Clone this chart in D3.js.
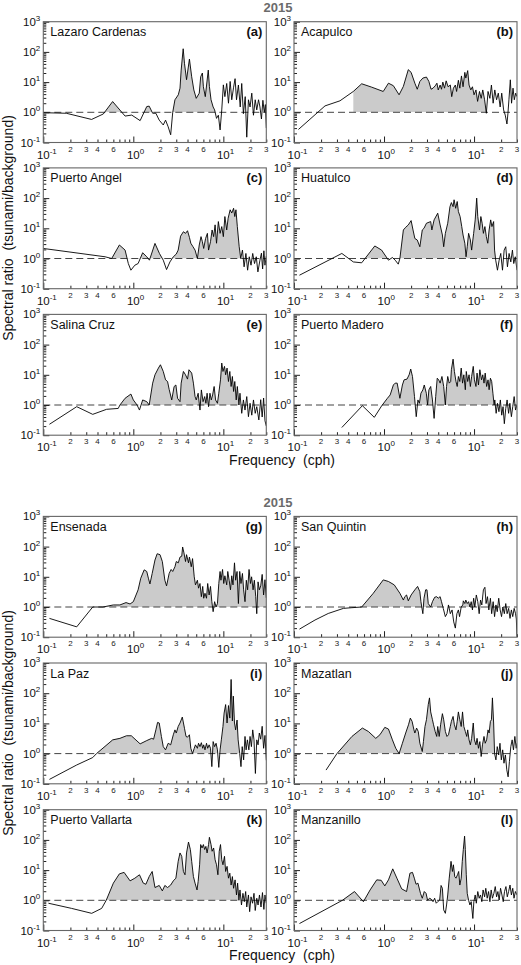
<!DOCTYPE html>
<html><head><meta charset="utf-8">
<script src="https://cdn.jsdelivr.net/npm/d3@7"></script>
<style>body{margin:0;background:#fff;} svg{display:block;font-family:"Liberation Sans",Arial,Helvetica,sans-serif;}</style>
</head><body><div id="chart"></div>
<script>
const groupTitles = ["2015", "2015"];
const xAxisTitle = "Frequency  (cph)";
const yAxisTitle = "Spectral ratio  (tsunami/background)";
const stations = ["Lazaro Cardenas","Acapulco","Puerto Angel","Huatulco","Salina Cruz","Puerto Madero",
                  "Ensenada","San Quintin","La Paz","Mazatlan","Puerto Vallarta","Manzanillo"];
const panelLetters = ["(a)","(b)","(c)","(d)","(e)","(f)","(g)","(h)","(i)","(j)","(k)","(l)"];
// frequency band (cph) that is shaded where ratio > 1
const shadeBands = [[0.4,8.5],[0.456,13.7],[0.57,15.6],[0.59,17.2],[0.7,15],[0.9,16.5],
                    [0.35,30],[0.56,8.8],[0.39,15],[0.3,16.9],[0.5,14.9],[0.345,8.7]];
const xMajorTicks = [0.1, 1, 10];
const xMajorExp = ["-1", "0", "1"];
const xMinorTicks = [0.2,0.3,0.4,0.5,0.6,0.7,0.8,0.9,2,3,4,5,6,7,8,9,20,30];
const xMinorLabelTicks = [0.2,0.3,0.4,0.6,2,3,4,6,20,30];
const xMinorLabels = ["2","3","4","6","2","3","4","6","2","3"];
const yMajorTicks = [0.1, 1, 10, 100, 1000];
const yMajorExp = ["-1", "0", "1", "2", "3"];
const yMinorTicks = [0.2,0.3,0.4,0.5,0.6,0.7,0.8,0.9,2,3,4,5,6,7,8,9,20,30,40,50,60,70,80,90,200,300,400,500,600,700,800,900];

// [frequency (cph), spectral ratio]
const lazaroCardenas = [[0.1,0.97],[0.18,0.93],[0.344,0.58],[0.464,0.88],[0.589,2.27],[0.81,0.75],[0.96,0.81],[1.19,0.53],[1.41,1.55],[1.5,1.6],[1.64,0.93],[1.78,0.93],[1.94,0.55],[2.15,0.38],[2.28,0.55],[2.44,0.33],[2.6,0.18],[2.74,1.0],[2.9,2.6],[3.16,3.8],[3.3,6.3],[3.4,25],[3.58,127],[3.7,42],[3.9,12],[4.2,58],[4.45,15],[4.7,5.5],[5.0,2.9],[5.4,4.3],[5.6,15],[5.85,20],[6.0,7],[6.3,3.3],[6.8,25],[7.0,7.2],[7.3,2.6],[7.7,1.5],[8.0,1.2],[8.4,0.63],[8.8,0.8],[9.2,0.26],[9.6,1.2],[10,8.1],[10.4,3.3],[10.9,9],[11.4,2],[11.9,10.5],[12.4,2.6],[13,6.8],[13.5,13],[14,2.6],[14.7,8],[15.4,1.5],[16,9],[16.7,0.9],[17.5,3.3],[18.2,0.15],[19,2.6],[19.8,1.5],[20.7,4.3],[21.6,0.8],[22.6,2.6],[23.5,1.2],[24.6,2.6],[25.5,1.5],[26.5,0.6],[27.5,2.5],[28.5,1.0],[29.3,1.8],[30,0.3]];
const acapulco = [[0.112,0.27],[0.221,1.63],[0.324,2.4],[0.456,4.9],[0.565,8.8],[0.73,6.8],[0.98,4.9],[1.12,9.2],[1.27,7.6],[1.47,3.8],[1.64,7.2],[1.86,25.8],[2.0,21],[2.2,9.2],[2.34,5.8],[2.5,10.5],[2.7,13.6],[2.96,14.7],[3.15,10.5],[3.33,5.8],[3.5,6.3],[3.7,7.5],[3.87,9.2],[4.0,5.5],[4.2,8],[4.35,5.8],[4.5,10],[4.7,6.3],[4.9,11],[5.15,7],[5.45,8],[5.65,3.3],[5.9,6.3],[6.2,8],[6.4,4.9],[6.7,11.5],[6.95,6.3],[7.25,16],[7.55,7],[7.9,21],[8.1,13.6],[8.5,24],[8.8,8],[9.2,5.5],[9.6,7],[10.0,3.8],[10.5,5.5],[10.95,2.3],[11.5,4.9],[12.0,2.9],[12.5,5.5],[13.1,2.6],[13.7,0.93],[14.3,4.9],[15,2.9],[15.6,8],[16.3,2],[17,5.5],[17.8,2.6],[18.6,4.3],[19.5,1.5],[20.3,4.3],[21.3,1.2],[22.2,0.81],[23.2,0.41],[23.8,0.93],[24.4,2.6],[25.3,11.9],[26.1,2],[27.1,6.3],[28,2.6],[29,4.3],[30,3.3]];
const puertoAngel = [[0.1,2.15],[0.485,1.14],[0.575,1.0],[0.70,2.8],[0.81,1.9],[0.88,0.68],[0.94,0.41],[1.04,0.6],[1.13,0.68],[1.27,1.55],[1.41,1.14],[1.51,0.88],[1.74,3.16],[1.95,1.47],[2.15,0.88],[2.34,0.43],[2.55,0.77],[2.78,1.14],[3.0,1.4],[3.15,1.9],[3.35,5.5],[3.6,7.7],[3.8,6.8],[4.0,8.3],[4.2,5],[4.35,3.2],[4.6,2.45],[4.85,1.9],[5.15,1.0],[5.4,2.8],[5.65,5.3],[5.85,3.6],[6.05,2.15],[6.35,4.6],[6.65,6.8],[6.85,1.9],[7.2,3.6],[7.5,8.8],[7.8,5.3],[8.1,13],[8.4,3.2],[8.8,16.7],[9.2,6.8],[9.6,11.4],[10,5.3],[10.4,24.5],[10.9,8.8],[11.3,21.5],[11.9,41],[12.4,32],[13,46],[13.4,24.5],[13.8,41],[14.3,11.4],[15.0,2.45],[15.6,1.0],[16.3,1.9],[17,0.53],[17.8,1.47],[18.6,0.41],[19.4,1.14],[20.3,0.6],[21.2,1.47],[22.2,0.68],[23.2,1.14],[24.2,0.36],[25.5,0.88],[26.5,1.5],[27.3,0.45],[28.2,1.8],[29,0.6],[30,1.2]];
const huatulco = [[0.115,0.28],[0.34,1.47],[0.456,0.77],[0.565,0.72],[0.79,2.6],[0.94,1.9],[1.12,0.88],[1.24,1.08],[1.33,0.88],[1.44,0.65],[1.5,1.0],[1.64,8.8],[1.74,10.8],[1.86,12.9],[2.0,18],[2.1,8.8],[2.2,4.6],[2.34,4.1],[2.5,2.45],[2.66,8.8],[2.78,10],[2.96,14.7],[3.3,16.7],[3.4,8.8],[3.6,19],[3.95,31.6],[4.2,12.9],[4.45,6],[4.6,2.45],[4.8,6.8],[5.1,14.7],[5.4,52],[5.6,71],[5.85,52],[6.0,88],[6.25,46],[6.5,77],[6.7,36],[7.0,24.5],[7.3,11.4],[7.55,6],[7.9,3.2],[8.15,1.14],[8.4,2.45],[8.7,6.8],[9.1,4.1],[9.4,1.9],[9.9,6.8],[10.3,19],[10.7,100],[11.0,24.5],[11.5,8.8],[11.9,24.5],[12.3,14.7],[12.7,6.8],[13.2,11.4],[13.7,5.3],[14.2,3.2],[14.7,8.8],[15.3,19],[15.8,11.4],[16.5,16.7],[16.9,1.9],[17.4,0.88],[18.2,0.41],[19,0.88],[19.8,1.47],[20.7,0.41],[21.6,1.9],[22.5,2.45],[23.5,0.53],[24.5,1.47],[25.6,0.77],[26.7,1.9],[27.6,0.68],[28.7,1.14],[30,0.41]];
const salinaCruz = [[0.117,0.23],[0.235,0.88],[0.354,0.49],[0.505,0.72],[0.68,0.77],[0.71,1.0],[0.81,1.67],[0.94,2.3],[1.0,1.47],[1.1,1.0],[1.17,0.68],[1.27,1.47],[1.41,1.29],[1.5,1.0],[1.64,5.3],[1.74,10],[1.9,16.7],[2.0,21.5],[2.15,12.9],[2.28,6.8],[2.4,6],[2.5,3.3],[2.67,1.47],[2.84,4.1],[2.97,4.6],[3.1,1.67],[3.3,1.29],[3.4,5.3],[3.6,12.9],[3.8,10],[4.0,7.2],[4.15,14.7],[4.45,11.4],[4.65,5.3],[4.85,1.9],[5.0,1.47],[5.25,2.45],[5.5,0.68],[5.7,3.16],[5.95,1.29],[6.2,1.9],[6.4,1.14],[6.6,2.45],[6.85,0.88],[7.1,2.45],[7.35,1.47],[7.6,2.15],[7.9,4.1],[8.2,1.47],[8.6,1.14],[8.9,2.45],[9.3,6.8],[9.6,24.5],[9.9,12.9],[10.3,19],[10.6,10],[11.0,16.7],[11.4,6],[11.8,12.9],[12.2,4.1],[12.6,8.8],[13.0,2.8],[13.4,6],[13.9,1.47],[14.3,4.1],[14.9,1.0],[15.3,2.45],[16.0,0.53],[16.7,1.47],[17.4,0.68],[18.2,1.9],[19,0.41],[19.8,1.14],[20.7,0.46],[21.6,1.47],[22.6,0.53],[23.5,0.88],[24.8,0.32],[26,1.5],[27,0.4],[28,1.7],[29,0.3],[30,0.2]];
const puertoMadero = [[0.34,0.18],[0.575,0.95],[0.78,0.39],[0.94,0.93],[1.09,1.67],[1.17,2.15],[1.27,4.6],[1.33,5.3],[1.4,5.3],[1.5,1.67],[1.6,4.6],[1.67,6.8],[1.8,7.2],[1.9,10],[1.98,15.5],[2.07,8.8],[2.18,1.9],[2.28,0.41],[2.38,1.47],[2.47,1.14],[2.57,2.45],[2.7,3.16],[2.8,4.6],[2.95,2.45],[3.05,1.0],[3.15,3.16],[3.3,4.1],[3.45,1.47],[3.6,0.36],[3.75,1.9],[3.9,7.7],[4.05,6.8],[4.2,5.3],[4.4,8.8],[4.6,4.1],[4.8,1.0],[4.95,4.1],[5.1,8.8],[5.3,5.3],[5.5,6],[5.6,14.7],[5.85,33],[6.05,12.9],[6.3,6],[6.5,4.1],[6.7,8.8],[6.95,6],[7.2,16.7],[7.45,5.3],[7.7,10],[8.0,3.2],[8.2,12.9],[8.5,6],[8.8,10],[9.1,4.1],[9.4,8.8],[9.8,19],[10.1,6.8],[10.5,4.1],[10.8,11.4],[11.2,4.6],[11.6,14.7],[12.1,6.8],[12.5,10],[12.9,5.3],[13.3,11.4],[13.8,4.1],[14.3,6.8],[14.7,3.2],[15.2,7.7],[15.7,6],[16.2,2.45],[16.7,1.0],[17.0,1.47],[17.6,0.53],[18.2,1.14],[18.9,0.6],[19.6,1.47],[20.3,0.46],[21,0.88],[21.7,0.24],[22.5,0.77],[23.3,1.47],[24.2,0.53],[25,1.14],[26,0.41],[26.9,0.88],[27.9,1.9],[28.9,0.68],[30,1.0]];
const ensenada = [[0.117,0.42],[0.235,0.22],[0.354,1.0],[0.46,1.0],[0.6,1.17],[0.71,1.17],[0.83,1.4],[0.92,1.26],[1.0,1.5],[1.13,3.7],[1.21,9],[1.32,17],[1.41,15],[1.47,9],[1.53,5.8],[1.62,12.9],[1.74,36],[1.84,58],[1.98,54],[2.1,32],[2.24,7.7],[2.34,5],[2.5,12.9],[2.63,17.5],[2.74,15],[2.9,21.5],[3.0,32],[3.16,29],[3.3,45],[3.45,48],[3.53,97],[3.65,62],[3.8,32],[3.9,54],[4.1,29],[4.2,45],[4.4,21.5],[4.55,40],[4.75,10],[4.9,5.4],[5.15,7.7],[5.3,4.2],[5.5,6],[5.7,2.2],[5.9,4.8],[6.05,1.95],[6.25,2.85],[6.5,1.95],[6.7,6],[6.95,2.5],[7.2,4.8],[7.45,1.5],[7.7,0.7],[8.0,1.5],[8.3,1.0],[8.6,1.3],[8.9,6],[9.2,15],[9.4,7.7],[9.8,17.5],[10.1,6],[10.4,10.8],[10.9,5.4],[11.2,15],[11.6,7.7],[12.0,3.7],[12.4,10.8],[12.8,5.4],[13.3,29],[13.7,7.7],[14.2,15],[14.7,1.3],[15.2,15],[15.7,6],[16.3,12.9],[16.8,3.7],[17.4,1.5],[18,7.7],[18.6,3.7],[19.3,17.5],[20,6],[20.6,10],[21.4,3.7],[22.1,7.7],[22.9,2.2],[23.5,0.6],[24.3,6.8],[25.1,3.7],[26,5],[27,12],[28,2.5],[29,8],[30,2]];
const sanQuintin = [[0.115,0.185],[0.171,0.37],[0.24,0.61],[0.354,0.9],[0.44,0.95],[0.565,1.0],[0.76,2.85],[0.98,7.9],[1.12,7],[1.3,5.4],[1.5,2.85],[1.64,1.7],[1.7,2.2],[1.78,2.5],[1.86,1.6],[2.0,2.5],[2.2,3.7],[2.36,4.8],[2.5,3.2],[2.57,1.5],[2.7,0.6],[2.78,1.95],[2.9,3.7],[3.0,3.7],[3.1,1.3],[3.3,1.0],[3.45,1.5],[3.65,2.1],[3.85,2.2],[4.0,1.95],[4.2,2.2],[4.35,1.5],[4.55,0.9],[4.8,0.48],[5.0,0.6],[5.2,1.17],[5.45,0.6],[5.7,0.8],[5.95,0.32],[6.2,0.2],[6.45,0.6],[6.7,0.8],[6.9,0.48],[7.2,1.0],[7.5,1.17],[7.6,1.6],[7.9,1.3],[8.1,1.7],[8.4,1.3],[8.7,1.5],[9.0,1.0],[9.3,1.5],[9.6,0.8],[9.9,1.95],[10.2,1.0],[10.6,2.5],[11.0,1.5],[11.4,0.6],[11.8,1.7],[12.2,1.17],[12.7,3.7],[13.2,4.5],[13.6,1.3],[14.1,2.2],[14.6,0.8],[15.2,1.95],[15.7,0.6],[16.3,1.5],[16.9,0.48],[17.5,1.17],[18.1,0.7],[18.8,1.95],[19.5,0.8],[20.2,0.48],[20.9,1.0],[21.7,0.6],[22.5,1.3],[23.3,0.6],[24.2,0.9],[25.1,0.42],[26,0.8],[26.9,0.48],[27.9,0.9],[28.9,0.6],[29.5,0.4],[30,0.1]];
const laPaz = [[0.117,0.14],[0.235,0.42],[0.354,0.74],[0.39,1.0],[0.59,2.85],[0.71,3.2],[0.84,3.9],[0.95,3.9],[1.19,2.1],[1.41,2.7],[1.6,3.2],[1.68,3.0],[1.78,6.1],[1.86,10.8],[1.94,10.3],[2.05,3.7],[2.15,1.7],[2.28,1.33],[2.44,2.2],[2.6,1.95],[2.78,4.2],[2.9,6.1],[3.0,4.8],[3.15,7.9],[3.3,10.3],[3.5,16.2],[3.7,6.9],[3.85,3.7],[4.0,3.5],[4.2,4.2],[4.35,1.5],[4.55,1.0],[4.75,1.5],[4.9,1.95],[5.15,1.5],[5.3,2.2],[5.5,1.7],[5.7,2.3],[5.9,1.5],[6.05,1.95],[6.25,1.33],[6.5,2.2],[6.7,1.5],[6.95,1.95],[7.2,1.5],[7.45,0.37],[7.7,2.5],[8.0,1.7],[8.3,2.2],[8.6,1.33],[8.9,0.35],[9.2,1.33],[9.5,2.85],[9.9,7.9],[10.2,22],[10.6,42],[11.0,10.3],[11.4,39],[11.8,15],[12.2,285],[12.6,12],[12.9,80],[13.3,10.3],[13.7,6.1],[14.2,12.9],[14.6,2.85],[15.2,1.0],[15.7,0.37],[16.2,1.7],[16.8,0.62],[17.4,3.7],[17.9,1.33],[18.5,2.85],[19.2,1.33],[19.8,3.7],[20.5,1.7],[21.2,6.1],[21.9,2.85],[22.7,0.22],[23.5,2.85],[24.3,1.95],[25.1,4.8],[26,3],[27,8],[28,1.5],[29,4],[30,0.6]];
const mazatlan = [[0.227,0.285],[0.3,1.0],[0.44,3.7],[0.575,7],[0.67,5.4],[0.81,3.2],[0.9,4.2],[1.02,7.4],[1.12,6.5],[1.24,2.85],[1.35,1.5],[1.47,1.0],[1.6,2.2],[1.74,4.8],[1.87,9],[1.96,15],[2.05,11.7],[2.15,6.1],[2.2,4.8],[2.3,7],[2.4,5.4],[2.5,2.2],[2.66,1.17],[2.74,2.5],[2.85,7.9],[2.96,13.2],[3.1,42],[3.2,70],[3.3,24],[3.45,13.2],[3.55,9],[3.7,5.4],[3.85,3.7],[3.95,7.9],[4.1,3.7],[4.25,9],[4.45,21],[4.6,13.2],[4.8,5.4],[5.0,3.7],[5.2,4.2],[5.45,7.9],[5.6,11.7],[5.85,17],[6.05,9],[6.3,6.1],[6.5,11.7],[6.7,24],[6.95,13.2],[7.2,7.9],[7.45,24],[7.7,7.9],[8.0,5.4],[8.3,3.7],[8.5,6.1],[8.8,2.85],[9.1,1.95],[9.4,3.2],[9.8,10.3],[10.1,2.85],[10.5,1.95],[10.8,3.2],[11.2,1.5],[11.6,2.5],[12.0,0.8],[12.4,1.95],[12.9,3.7],[13.3,2.2],[13.8,2.85],[14.3,6.1],[14.7,4.8],[15.2,11.7],[15.6,13.2],[16.0,70],[16.5,10.3],[16.9,1.0],[17.5,0.62],[18.1,1.7],[18.8,0.9],[19.4,2.2],[20.1,0.62],[20.8,1.33],[21.5,0.48],[22.3,0.9],[23.1,0.29],[23.9,0.17],[24.7,0.54],[25.6,1.7],[26.5,2.85],[27.4,1.33],[28.4,3.7],[29.4,1.5],[30,2.2]];
const puertoVallarta = [[0.114,0.8],[0.206,0.54],[0.345,0.37],[0.445,0.54],[0.5,1.0],[0.6,3.7],[0.7,7.5],[0.79,8.4],[0.92,4.4],[1.04,5.4],[1.17,7],[1.29,3.7],[1.38,3.4],[1.5,6.1],[1.62,9],[1.74,2.65],[1.94,3.1],[2.1,2.05],[2.24,3.1],[2.4,2.65],[2.6,3.2],[2.78,4.4],[2.97,5.4],[3.15,19.5],[3.3,37],[3.45,28.6],[3.6,9],[3.75,7],[3.9,37],[4.1,85],[4.3,48],[4.45,19.5],[4.65,6.1],[4.85,3.7],[5.1,2.2],[5.25,4.2],[5.45,15],[5.6,70],[5.8,54],[6.0,70],[6.2,48],[6.4,61],[6.6,37],[6.85,70],[7.0,122],[7.3,70],[7.5,42],[7.8,54],[8.1,22],[8.4,15],[8.7,7],[9.0,42],[9.3,70],[9.6,22],[9.9,15],[10.3,28.6],[10.6,9],[11.0,13.3],[11.4,5.4],[11.8,7.9],[12.2,3.2],[12.6,6.1],[13.0,2.5],[13.5,4.75],[14.0,1.5],[14.4,3.7],[14.9,1.0],[15.3,2.2],[15.9,0.7],[16.5,1.7],[17.1,0.9],[17.7,1.95],[18.2,0.6],[19,1.5],[19.6,0.42],[20.3,1.3],[21.1,0.8],[21.9,1.7],[22.6,0.46],[23.5,1.17],[24.3,0.7],[25.2,1.5],[26.2,0.6],[27.2,1.8],[28.2,0.5],[29,1.5],[30,0.8]];
const manzanillo = [[0.115,0.17],[0.345,1.0],[0.47,1.95],[0.59,0.9],[0.7,2.2],[0.83,4.75],[0.93,4.6],[1.02,3.0],[1.12,4.75],[1.25,11],[1.39,5.4],[1.57,2.4],[1.78,1.95],[1.94,7.9],[2.07,8.4],[2.17,5.4],[2.27,3.4],[2.38,3.7],[2.54,1.7],[2.66,1.17],[2.8,1.95],[2.93,1.7],[3.05,1.0],[3.2,1.17],[3.33,1.1],[3.5,0.9],[3.65,1.17],[3.8,0.8],[3.95,0.9],[4.15,1.02],[4.3,3.1],[4.45,2.5],[4.6,0.48],[4.8,0.37],[4.95,0.7],[5.1,1.5],[5.3,5.4],[5.55,19.5],[5.75,9],[5.9,15],[6.1,6.1],[6.3,5.4],[6.55,7],[6.75,9],[6.95,3.2],[7.2,5.4],[7.4,19.5],[7.6,48],[7.85,133],[8.0,48],[8.2,7],[8.4,1.7],[8.7,1.0],[9.0,0.7],[9.3,0.9],[9.7,0.25],[9.95,0.9],[10.3,1.5],[10.6,0.8],[11.0,1.95],[11.4,1.17],[11.8,1.5],[12.2,0.9],[12.6,2.2],[13.1,1.3],[13.5,2.5],[14.0,1.17],[14.5,1.95],[15.0,0.9],[15.5,2.2],[16.0,1.17],[16.6,1.7],[17.2,2.85],[17.8,1.3],[18.4,1.95],[19,1.02],[19.7,2.5],[20.4,1.5],[21.1,0.9],[21.8,1.95],[22.6,2.85],[23.4,1.3],[24.2,1.95],[25.1,3.2],[26,1.5],[26.9,2.5],[27.8,1.17],[28.8,1.95],[30,1.5]];

const panelData = [lazaroCardenas, acapulco, puertoAngel, huatulco, salinaCruz, puertoMadero,
                   ensenada, sanQuintin, laPaz, mazatlan, puertoVallarta, manzanillo];

// ---------- layout ----------
const W = 521, H = 965;
const colX = [43.3, 294];
const rowTop = [21.7, 167.9, 314.4, 516.4, 663, 809.7];
const PW = 223, PH = 120.8;
const groupTitleY = [11.5, 506.5];
const xTitleY = [465, 960];
const yTitleCY = [228, 723];

const svg = d3.select("#chart").append("svg").attr("width", W).attr("height", H);
const defs = svg.append("defs");

function interpAt(data, f) {
  if (f <= data[0][0]) return data[0][1];
  const last = data[data.length - 1];
  if (f >= last[0]) return last[1];
  for (let j = 0; j < data.length - 1; j++) {
    const a = data[j], b = data[j + 1];
    if (f >= a[0] && f <= b[0]) {
      const t = (Math.log(f) - Math.log(a[0])) / (Math.log(b[0]) - Math.log(a[0]));
      return Math.exp(Math.log(a[1]) + t * (Math.log(b[1]) - Math.log(a[1])));
    }
  }
  return 1;
}

panelData.forEach((data, i) => {
  const x0 = colX[i % 2], top = rowTop[Math.floor(i / 2)];
  const x = d3.scaleLog().domain([0.1, 30]).range([x0, x0 + PW]);
  const y = d3.scaleLog().domain([0.1, 1000]).range([top + PH, top]);
  const g = svg.append("g");

  defs.append("clipPath").attr("id", "clip" + i).append("rect")
    .attr("x", x0).attr("y", top).attr("width", PW).attr("height", PH);
  defs.append("clipPath").attr("id", "shade" + i).append("rect")
    .attr("x", x0).attr("y", top).attr("width", PW).attr("height", y(1) - top);

  // shaded region
  const band = shadeBands[i];
  const bandPts = [[band[0], interpAt(data, band[0])]]
    .concat(data.filter(d => d[0] > band[0] && d[0] < band[1]))
    .concat([[band[1], interpAt(data, band[1])]]);
  g.append("path").datum(bandPts)
    .attr("clip-path", `url(#shade${i})`)
    .attr("fill", "#cbcbcb")
    .attr("d", d3.area().x(d => x(d[0])).y0(y(1)).y1(d => y(d[1])));

  // dashed reference line at ratio 1
  g.append("line")
    .attr("x1", x(0.1)).attr("x2", x(30)).attr("y1", y(1)).attr("y2", y(1))
    .attr("stroke", "#444").attr("stroke-width", 1).attr("stroke-dasharray", "7,4");

  // curve
  g.append("path").datum(data)
    .attr("clip-path", `url(#clip${i})`)
    .attr("fill", "none").attr("stroke", "#000").attr("stroke-width", 0.9)
    .attr("stroke-linejoin", "round")
    .attr("d", d3.line().x(d => x(d[0])).y(d => y(d[1])));

  // axes (ticks inward)
  const xa = g.append("g").attr("transform", `translate(0,${top + PH})`)
    .call(d3.axisBottom(x).tickValues(xMajorTicks.concat(xMinorTicks)).tickSize(-3).tickFormat(""));
  xa.select(".domain").remove();
  xa.selectAll(".tick line").attr("stroke", "#222")
    .attr("y2", d => xMajorTicks.includes(d) ? -6 : -3);
  const ya = g.append("g").attr("transform", `translate(${x0},0)`)
    .call(d3.axisLeft(y).tickValues(yMajorTicks.concat(yMinorTicks)).tickSize(-3).tickFormat(""));
  ya.select(".domain").remove();
  ya.selectAll(".tick line").attr("stroke", "#222")
    .attr("x2", d => yMajorTicks.includes(d) ? 6 : 3);

  // frame
  g.append("rect").attr("x", x0).attr("y", top).attr("width", PW).attr("height", PH)
    .attr("fill", "none").attr("stroke", "#666").attr("stroke-width", 1.1);

  // x tick labels
  xMajorTicks.forEach((t, k) => {
    const tx = g.append("text").attr("x", x(t) - 6.4).attr("y", top + PH + 16)
      .attr("font-size", 11.5).attr("fill", "#111");
    tx.append("tspan").text("10");
    tx.append("tspan").attr("dy", -5).attr("font-size", 8).text(xMajorExp[k]);
  });
  xMinorLabelTicks.forEach((t, k) => {
    g.append("text").attr("x", x(t)).attr("y", top + PH + 9)
      .attr("text-anchor", "middle").attr("font-size", 8).attr("fill", "#222")
      .text(xMinorLabels[k]);
  });
  // y tick labels
  yMajorTicks.forEach((t, k) => {
    const ty = g.append("text").attr("x", x0 - 3).attr("y", y(t) + 4)
      .attr("text-anchor", "end").attr("font-size", 11.5).attr("fill", "#111");
    ty.append("tspan").text("10");
    ty.append("tspan").attr("dy", -5).attr("font-size", 8).text(yMajorExp[k]);
  });

  // station & letter labels
  g.append("text").attr("x", x0 + 7).attr("y", top + 14.5)
    .attr("font-size", 12.5).attr("fill", "#111").text(stations[i]);
  g.append("text").attr("x", x0 + PW - 4).attr("y", top + 14.5)
    .attr("text-anchor", "end").attr("font-size", 13).attr("font-weight", "bold")
    .attr("fill", "#111").text(panelLetters[i]);
});

// group titles and axis titles
groupTitles.forEach((t, k) => {
  svg.append("text").attr("x", 278).attr("y", groupTitleY[k])
    .attr("text-anchor", "middle").attr("font-size", 13).attr("font-weight", "bold")
    .attr("fill", "#6b6b6b").text(t);
  svg.append("text").attr("x", 282).attr("y", xTitleY[k])
    .attr("text-anchor", "middle").attr("font-size", 14).attr("fill", "#111")
    .style("white-space", "pre").text(xAxisTitle);
  svg.append("text").attr("transform", `translate(13,${yTitleCY[k]}) rotate(-90)`)
    .attr("text-anchor", "middle").attr("font-size", 14).attr("fill", "#111")
    .style("white-space", "pre").text(yAxisTitle);
});
</script>
</body></html>
